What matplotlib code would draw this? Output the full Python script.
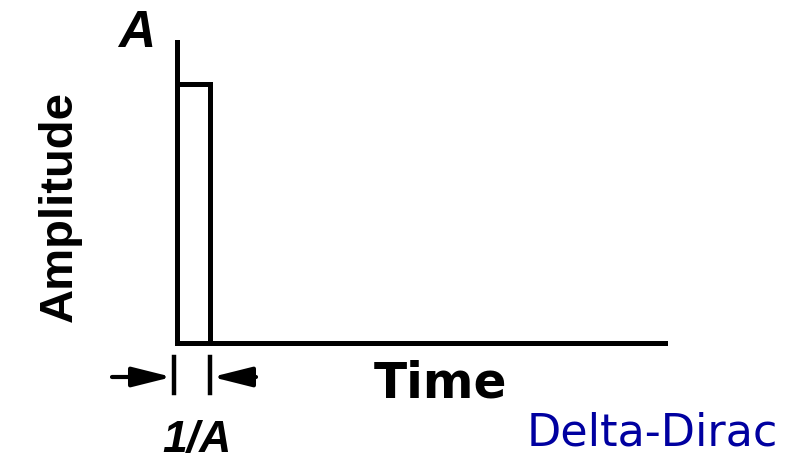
import matplotlib
matplotlib.use("Agg")
import matplotlib.pyplot as plt
from matplotlib import font_manager

# Data: rectangular pulse of height A and width 1/A
time = [0.0, 0.0, 1.0, 1.0, 14.6]
amplitude = [0.0, 1.0, 1.0, 0.0, 0.0]
x_max = 14.6
y_max = 1.162
labels = {"y": "Amplitude", "x": "Time", "amp": "A", "width": "1/A", "title": "Delta-Dirac"}

W, H = 793, 462
fig = plt.figure(figsize=(W / 100, H / 100), dpi=100)

names = {f.name for f in font_manager.fontManager.ttflist}
narrow = "Liberation Sans Narrow" if "Liberation Sans Narrow" in names else "Liberation Sans"

# main axes: origin at pixel (177, 343), x-axis to 665, y-axis to 42
x0, y0, x1, y1 = 177, 343, 665, 42
ax = fig.add_axes([x0 / W, (H - y0) / H, (x1 - x0) / W, (y0 - y1) / H])
ax.plot(time, amplitude, color="black", lw=3.6, solid_joinstyle="miter", clip_on=False)
ax.set_xlim(0, x_max)
ax.set_ylim(0, y_max)
for s in ["top", "right"]:
    ax.spines[s].set_visible(False)
for s in ["left", "bottom"]:
    ax.spines[s].set_linewidth(3.6)
ax.set_xticks([])
ax.set_yticks([])
ax.patch.set_alpha(0)

# overlay in pixel coordinates for annotations
ov = fig.add_axes([0, 0, 1, 1])
ov.set_xlim(0, W)
ov.set_ylim(H, 0)
ov.axis("off")
ov.patch.set_alpha(0)

ov.text(137, 47, labels["amp"], fontsize=37, style="italic", fontweight="bold",
        family=["Liberation Sans", "DejaVu Sans"], ha="center", va="baseline")
ov.text(60, 207, labels["y"], fontsize=38 if narrow.endswith("Narrow") else 34,
        rotation=90, family=[narrow, "DejaVu Sans"], fontweight="bold",
        ha="center", va="center")
ov.text(441, 397, labels["x"], fontsize=35, family=["DejaVu Sans"], fontweight="bold",
        ha="center", va="baseline")
ov.text(197, 452, labels["width"], fontsize=32, style="italic", fontweight="bold",
        family=["Liberation Sans", "DejaVu Sans"], ha="center", va="baseline")
ov.text(652, 445, labels["title"], fontsize=32, color="#0000A0",
        family=["DejaVu Sans"], ha="center", va="baseline")

# dimension marks for the pulse width
for xp in (174, 210):
    ov.plot([xp, xp], [357, 393], color="black", lw=3.2)
ap = dict(arrowstyle="-|>,head_length=2.4,head_width=0.6", color="black", lw=3,
          shrinkA=0, shrinkB=0)
ov.annotate("", xy=(172, 377), xytext=(112, 377), arrowprops=ap)
ov.annotate("", xy=(212, 377), xytext=(256, 377), arrowprops=ap)

fig.savefig("out.png", dpi=100)
